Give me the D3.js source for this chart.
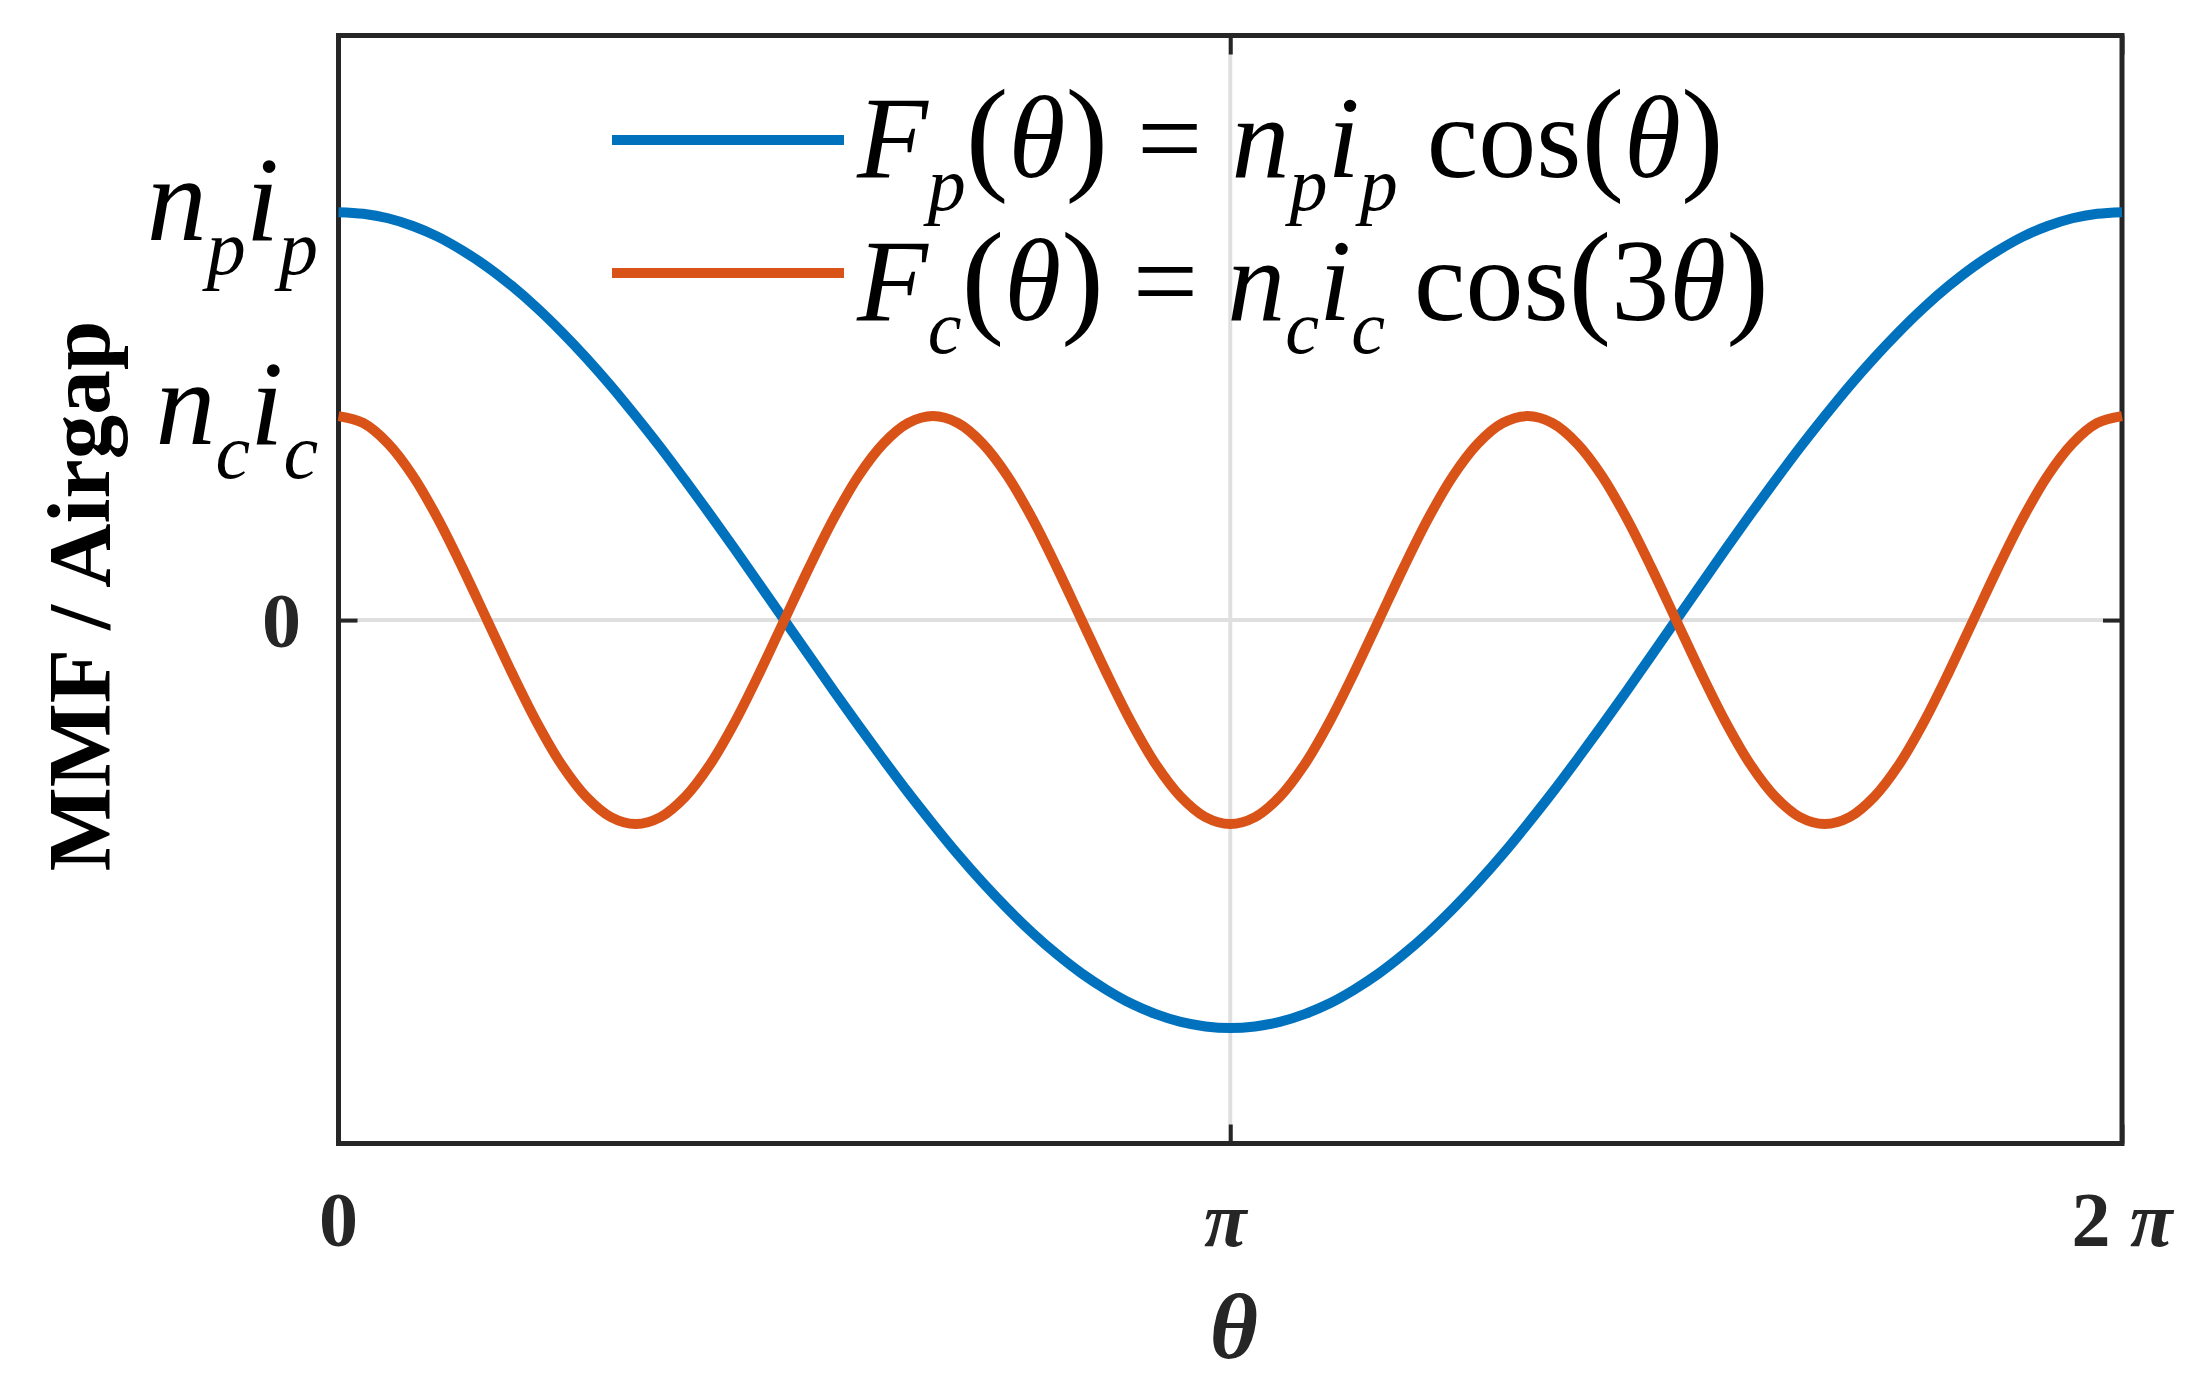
<!DOCTYPE html>
<html>
<head>
<meta charset="utf-8">
<script src="https://cdn.jsdelivr.net/npm/d3@7"></script>
<style>
  html, body { margin: 0; padding: 0; background: #fff; }
  svg { display: block; }
</style>
</head>
<body>
<div id="chart"></div>
<script>
// ---------------- data ----------------
const thetaDeg = [0,5,10,15,20,25,30,35,40,45,50,55,60,65,70,75,80,85,90,95,100,105,110,115,120,125,130,135,140,145,150,155,160,165,170,175,180,185,190,195,200,205,210,215,220,225,230,235,240,245,250,255,260,265,270,275,280,285,290,295,300,305,310,315,320,325,330,335,340,345,350,355,360];

// F_p(theta), in units of n_p i_p
const Fp = [1.000,0.996,0.985,0.966,0.940,0.906,0.866,0.819,0.766,0.707,0.643,0.574,0.500,0.423,0.342,0.259,0.174,0.087,0.000,-0.087,-0.174,-0.259,-0.342,-0.423,-0.500,-0.574,-0.643,-0.707,-0.766,-0.819,-0.866,-0.906,-0.940,-0.966,-0.985,-0.996,-1.000,
  -0.996,-0.985,-0.966,-0.940,-0.906,-0.866,-0.819,-0.766,-0.707,-0.643,-0.574,-0.500,-0.423,-0.342,-0.259,-0.174,-0.087,0.000,0.087,0.174,0.259,0.342,0.423,0.500,0.574,0.643,0.707,0.766,0.819,0.866,0.906,0.940,0.966,0.985,0.996,1.000];

// F_c(theta), same units (n_c i_c = 0.5)
const Fc = [0.500,0.483,0.433,0.354,0.250,0.129,0.000,-0.129,-0.250,-0.354,-0.433,-0.483,-0.500,-0.483,-0.433,-0.354,-0.250,-0.129,0.000,0.129,0.250,0.354,0.433,0.483,
  0.500,0.483,0.433,0.354,0.250,0.129,0.000,-0.129,-0.250,-0.354,-0.433,-0.483,-0.500,-0.483,-0.433,-0.354,-0.250,-0.129,0.000,0.129,0.250,0.354,0.433,0.483,
  0.500,0.483,0.433,0.354,0.250,0.129,0.000,-0.129,-0.250,-0.354,-0.433,-0.483,-0.500,-0.483,-0.433,-0.354,-0.250,-0.129,0.000,0.129,0.250,0.354,0.433,0.483,
  0.500];

const xTickValues = [0, 180, 360];
const xTickLabels = [[{t:"0"}], [{t:"π", i:1}], [{t:"2 "}, {t:"π", i:1}]];
const yGridValues = [0];
const yLabelValues = [1.0, 0.5];
const yLabelParts = [
  [{t:"n", i:1}, {t:"p", i:1, sub:1}, {t:"i", i:1}, {t:"p", i:1, sub:1}],
  [{t:"n", i:1}, {t:"c", i:1, sub:1}, {t:"i", i:1}, {t:"c", i:1, sub:1}]
];
const seriesNames = [
  [{t:"F", i:1}, {t:"p", i:1, sub:1}, {t:"(", p:1}, {t:"θ", i:1}, {t:")", p:1}, {t:" = "}, {t:"n", i:1}, {t:"p", i:1, sub:1}, {t:"i", i:1}, {t:"p", i:1, sub:1}, {t:" cos"}, {t:"(", p:1}, {t:"θ", i:1}, {t:")", p:1}],
  [{t:"F", i:1}, {t:"c", i:1, sub:1}, {t:"(", p:1}, {t:"θ", i:1}, {t:")", p:1}, {t:" = "}, {t:"n", i:1}, {t:"c", i:1, sub:1}, {t:"i", i:1}, {t:"c", i:1, sub:1}, {t:" cos"}, {t:"(", p:1}, {t:"3"}, {t:"θ", i:1}, {t:")", p:1}]
];
const seriesColors = ["#0072BD", "#D95319"];
const xAxisTitle = "θ";
const yAxisTitle = "MMF / Airgap";

// ---------------- layout ----------------
const W = 2195, H = 1389;
const L = 338.5, R = 2122, T = 35.5, B = 1143.5;
const FONT = "'Liberation Serif', 'Times New Roman', serif";
const AX = "#262626";

const svg = d3.select("#chart").append("svg").attr("width", W).attr("height", H);

const x = d3.scaleLinear().domain([0, 360]).range([L, R]);
const y = d3.scaleLinear().domain([-1.283, 1.433]).range([B, T]);

// grid
const g = svg.append("g");
g.selectAll("line.gx").data(xTickValues).join("line")
  .attr("x1", d => x(d)).attr("x2", d => x(d)).attr("y1", T).attr("y2", B)
  .attr("stroke", "#dfdfdf").attr("stroke-width", 4);
g.selectAll("line.gy").data(yGridValues).join("line")
  .attr("class", "gy")
  .attr("x1", L).attr("x2", R).attr("y1", d => y(d)).attr("y2", d => y(d))
  .attr("stroke", "#dfdfdf").attr("stroke-width", 4);

// axes via d3 axis (inward ticks, mirrored)
const tickLen = 19;
function styleAxis(sel) {
  sel.selectAll(".domain").remove();
  sel.selectAll(".tick line").attr("stroke", AX).attr("stroke-width", 4);
  sel.selectAll(".tick text").remove();
}
svg.append("g").attr("transform", `translate(0,${B})`)
  .call(d3.axisBottom(x).tickValues(xTickValues).tickSizeInner(-tickLen).tickSizeOuter(0)).call(styleAxis);
svg.append("g").attr("transform", `translate(0,${T})`)
  .call(d3.axisTop(x).tickValues(xTickValues).tickSizeInner(-tickLen).tickSizeOuter(0)).call(styleAxis);
svg.append("g").attr("transform", `translate(${L},0)`)
  .call(d3.axisLeft(y).tickValues(yGridValues).tickSizeInner(-tickLen).tickSizeOuter(0)).call(styleAxis);
svg.append("g").attr("transform", `translate(${R},0)`)
  .call(d3.axisRight(y).tickValues(yGridValues).tickSizeInner(-tickLen).tickSizeOuter(0)).call(styleAxis);

// frame
svg.append("rect").attr("x", L).attr("y", T).attr("width", R - L).attr("height", B - T)
  .attr("fill", "none").attr("stroke", AX).attr("stroke-width", 5);

// curves
const line = d3.line().x(d => x(d[0])).y(d => y(d[1])).curve(d3.curveCatmullRom);
[Fp, Fc].forEach((vals, k) => {
  svg.append("path")
    .datum(thetaDeg.map((t, i) => [t, vals[i]]))
    .attr("fill", "none").attr("stroke", seriesColors[k]).attr("stroke-width", 10)
    .attr("stroke-linejoin", "round")
    .attr("d", line);
});

// rich text helper
function rich(textSel, parts, size, subSize, subDy, parenSize) {
  let shift = 0;
  parts.forEach(p => {
    const ts = textSel.append("tspan").text(p.t);
    const target = p.sub ? subDy : 0;
    if (target !== shift) { ts.attr("dy", target - shift); shift = target; }
    ts.attr("font-size", p.sub ? subSize : (p.p ? parenSize : size));
    ts.attr("font-style", p.i ? "italic" : "normal");
  });
}

// x tick labels
xTickValues.forEach((v, k) => {
  const t = svg.append("text").attr("x", x(v) - (k === 1 ? 5 : 0)).attr("y", 1246)
    .attr("text-anchor", "middle").attr("font-family", FONT).attr("font-weight", "bold")
    .attr("fill", AX);
  rich(t, xTickLabels[k], 78, 78, 0, 78);
});
// y tick label 0
svg.append("text").attr("x", 301).attr("y", y(0) + 27).attr("text-anchor", "end")
  .attr("font-family", FONT).attr("font-weight", "bold").attr("font-size", 78)
  .attr("fill", AX).text("0");
// y value labels
yLabelValues.forEach((v, k) => {
  const t = svg.append("text").attr("x", 318).attr("y", y(v) + 28).attr("text-anchor", "end")
    .attr("font-family", FONT).attr("fill", "#000");
  rich(t, yLabelParts[k], 120, 78, 34, 120);
});

// axis titles
svg.append("text").attr("x", 1234).attr("y", 1358).attr("text-anchor", "middle")
  .attr("font-family", FONT).attr("font-weight", "bold").attr("font-style", "italic")
  .attr("font-size", 93).attr("fill", AX).text(xAxisTitle);
svg.append("text").attr("transform", `translate(109,${596}) rotate(-90)`)
  .attr("text-anchor", "middle").attr("font-family", FONT).attr("font-weight", "bold")
  .attr("font-size", 89).attr("fill", "#000").text(yAxisTitle);

// legend
const legY = [140, 273];
const legBase = [177, 320];
seriesNames.forEach((parts, k) => {
  svg.append("line").attr("x1", 612).attr("x2", 844).attr("y1", legY[k]).attr("y2", legY[k])
    .attr("stroke", seriesColors[k]).attr("stroke-width", 10);
  const t = svg.append("text").attr("x", 857).attr("y", legBase[k])
    .attr("font-family", FONT).attr("fill", "#000");
  rich(t, parts, 116, 76, 33, 128);
});
</script>
</body>
</html>
